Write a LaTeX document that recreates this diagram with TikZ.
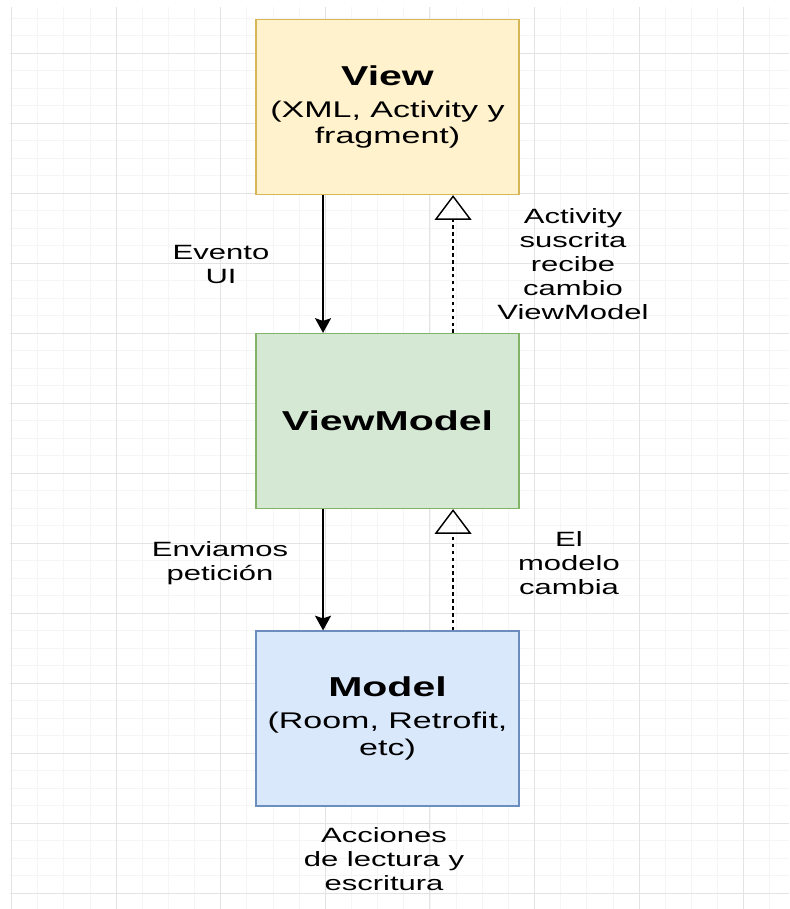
\documentclass[tikz,border=0pt]{standalone}
\usepackage{fontspec}
\setmainfont{Liberation Sans}
\usepackage{xcolor}
\usetikzlibrary{arrows.meta}

\definecolor{viewfill}{HTML}{FFF2CC}
\definecolor{viewline}{HTML}{D6B656}
\definecolor{vmfill}{HTML}{D5E8D4}
\definecolor{vmline}{HTML}{82B366}
\definecolor{modelfill}{HTML}{DAE8FC}
\definecolor{modelline}{HTML}{6C8EBF}

\newcommand{\capatitulo}{\fontsize{20.5}{24}\selectfont\bfseries}
\newcommand{\capatexto}{\fontsize{17}{20}\selectfont}
\newcommand{\notatexto}{\fontsize{15.5}{18}\selectfont}

\tikzset{
  capa/.style={rectangle, transform shape, line width=0.9pt, minimum width=131.5pt,
    minimum height=131.25pt, inner sep=0pt, align=center, font=\capatexto},
  nota/.style={transform shape, inner sep=0pt, align=center, font=\notatexto},
  flujo/.style={line width=1.4pt, -{Stealth[length=11pt,width=12pt,inset=2pt]}},
  aviso/.style={line width=1.2pt, dash pattern=on 2.6pt off 2.6pt,
    -{Triangle[open,length=18.5pt,width=27.5pt,line width=1.1pt]}},
  gridmayor/.style={draw=black!11, line width=0.6pt},
  gridmenor/.style={draw=black!4, line width=0.4pt},
}

\begin{document}
\begin{tikzpicture}[x=0.5pt,y=-0.75pt,xscale=1.5]
\useasboundingbox (0,0) rectangle (789,909);

%Grid
\begin{scope}
\clip (10,7) rectangle (789,909);
\foreach \gx in {0,...,30}
  \draw[gridmenor] ({11.4+26.15*\gx},7) -- ({11.4+26.15*\gx},909);
\foreach \gy in {0,...,53}
  \draw[gridmenor] (10,{-17+17.5*\gy}) -- (789,{-17+17.5*\gy});
\foreach \gx in {0,...,7}
  \draw[gridmayor] ({11.4+104.6*\gx},7) -- ({11.4+104.6*\gx},909);
\foreach \gy in {0,...,13}
  \draw[gridmayor] (10,{-17+70*\gy}) -- (789,{-17+70*\gy});
\end{scope}

% Layers
\node[capa, fill=viewfill, draw=viewline] (view) at (387.5,107)
  {{\capatitulo View}\\[4pt](XML, Activity y\\fragment)};
\node[capa, fill=vmfill, draw=vmline] (viewmodel) at (387.5,421)
  {{\capatitulo ViewModel}};
\node[capa, fill=modelfill, draw=modelline] (model) at (387.5,718.5)
  {{\capatitulo Model}\\[4pt](Room, Retrofit,\\etc)};

%Straight Lines
\coordinate (bajada) at (323,0);
\coordinate (subida) at (453,0);
\draw[flujo] (view.south -| bajada) -- (viewmodel.north -| bajada);
\draw[aviso] (viewmodel.north -| subida) -- (view.south -| subida);
\draw[flujo] (viewmodel.south -| bajada) -- (model.north -| bajada);
\draw[aviso] (model.north -| subida) -- (viewmodel.south -| subida);

% Text Node
\node[nota] (evento) at (221,264) {Evento\\UI};
% Text Node
\node[nota] (suscrita) at (573,264) {Activity\\suscrita\\recibe\\cambio\\ViewModel};
% Text Node
\node[nota] (peticion) at (220,563) {Enviamos\\petición};
% Text Node
\node[nota] (cambia) at (569,563) {El\\modelo\\cambia};
% Text Node
\node[nota] (acciones) at (384,859) {Acciones\\de lectura y\\escritura};
\end{tikzpicture}
\end{document}
